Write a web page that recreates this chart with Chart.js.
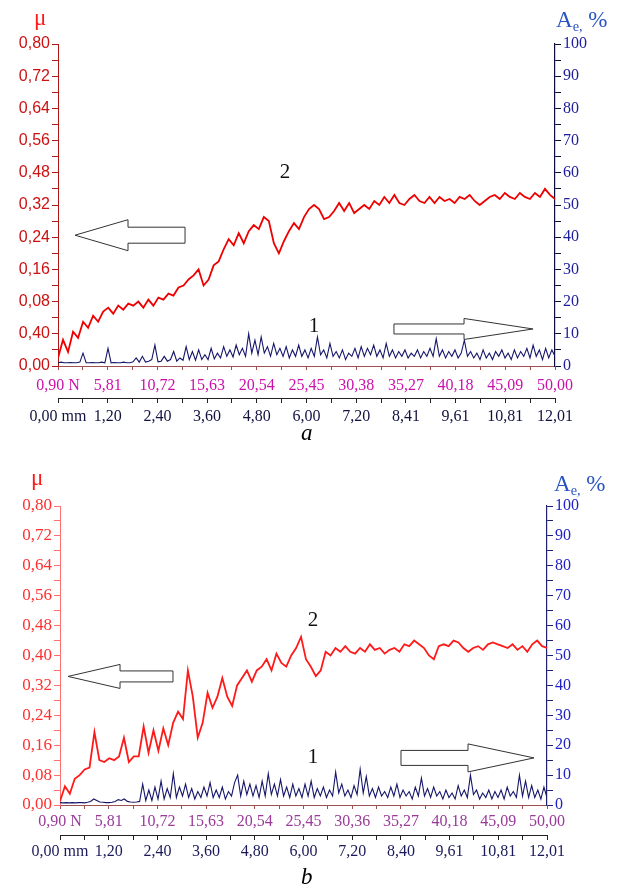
<!DOCTYPE html>
<html>
<head>
<meta charset="utf-8">
<script src="https://cdn.jsdelivr.net/npm/chart.js@4.4.0/dist/chart.umd.min.js"></script>
<style>
    body { margin: 0; background: #fff; width: 619px; height: 888px; position: relative; overflow: hidden; font-family: 'Liberation Serif', serif; }
    canvas { position: absolute; left: 0; }
    .t { position: absolute; white-space: nowrap; line-height: 1; }
    .t sub { font-size: 62%; vertical-align: -4px; }
</style>
</head>
<body>
<canvas id="chartA" width="619" height="430" style="top:0"></canvas>
<canvas id="chartB" width="619" height="440" style="top:448px"></canvas>

<div class="t" style="left:34px;top:6px;color:#ff1a1a;font-size:23px">μ</div>
<div class="t" style="left:556px;top:8px;color:#2a55c0;font-size:23px">A<sub>e,</sub> %</div>
<div class="t" style="left:301px;top:421px;font-size:23px;font-style:italic">a</div>

<div class="t" style="left:31px;top:466px;color:#ff1a1a;font-size:23px">μ</div>
<div class="t" style="left:554px;top:472px;color:#2a55c0;font-size:23px">A<sub>e,</sub> %</div>
<div class="t" style="left:301px;top:865px;font-size:23px;font-style:italic">b</div>

<script>
// friction coefficient (curve 2) and acoustic emission (curve 1), each sampled evenly over 0.90..50.00 N
const muA = [0.02, 0.065, 0.035, 0.085, 0.07, 0.11, 0.095, 0.125, 0.11, 0.135, 0.145, 0.13, 0.15, 0.14, 0.155, 0.15,
    0.16, 0.145, 0.165, 0.15, 0.17, 0.165, 0.18, 0.175, 0.195, 0.2, 0.215, 0.225, 0.24, 0.2, 0.215, 0.25,
    0.26, 0.29, 0.315, 0.3, 0.33, 0.305, 0.335, 0.35, 0.34, 0.37, 0.36, 0.305, 0.28, 0.31, 0.335, 0.355,
    0.34, 0.37, 0.39, 0.4, 0.39, 0.365, 0.37, 0.385, 0.405, 0.385, 0.405, 0.38, 0.39, 0.4, 0.39, 0.41,
    0.4, 0.42, 0.405, 0.425, 0.405, 0.4, 0.415, 0.425, 0.41, 0.405, 0.42, 0.405, 0.42, 0.41, 0.415, 0.405,
    0.42, 0.415, 0.425, 0.41, 0.4, 0.41, 0.42, 0.425, 0.415, 0.43, 0.42, 0.415, 0.43, 0.42, 0.415, 0.43,
    0.42, 0.44, 0.425, 0.415]
const aeA = [1, 1.2, 1, 1, 1.1, 1, 1, 1.2, 4, 1, 1, 1.1, 1, 1, 1.2, 1,
    5.5, 1, 1.1, 1, 1, 1.2, 1, 1, 1.3, 2.5, 1.2, 3, 1.2, 1.5, 2, 6.5,
    1.3, 1.5, 3, 1.5, 2, 4.5, 1.5, 2.5, 1.8, 6, 2, 4.5, 1.8, 5, 2, 3.5,
    2, 5.5, 2.2, 4, 2.5, 6, 3, 5, 2.8, 6.5, 3.5, 5.5, 3, 10, 4, 8,
    3.5, 9, 4, 6, 3, 7, 3.5, 5.5, 3, 6, 2.5, 5, 3, 6.5, 3, 5,
    2.5, 5.5, 3, 9, 3.5, 5, 2.5, 7, 3, 4.5, 2.5, 5, 2, 4, 3, 5.5,
    2.5, 6, 3, 5.5, 3.5, 6.5, 3, 5, 2.5, 7, 3, 5, 2.5, 4.5, 3, 5,
    2.5, 4, 3, 5, 2.5, 4.5, 3, 5.5, 3, 8.5, 3, 5, 2.5, 4.5, 3, 5,
    2.5, 4, 8, 3, 4.5, 2.5, 4, 2, 5, 2.5, 4, 2, 4.5, 3, 5, 2.5,
    4, 2, 5, 2.5, 4.5, 3, 5.5, 2.5, 6.5, 3, 5, 2, 5.5, 2.5, 5, 3]
const muB = [0.01, 0.05, 0.03, 0.07, 0.08, 0.095, 0.1, 0.195, 0.12, 0.115, 0.125, 0.12, 0.13, 0.18, 0.115, 0.13,
    0.13, 0.21, 0.14, 0.2, 0.145, 0.205, 0.16, 0.22, 0.25, 0.23, 0.36, 0.29, 0.18, 0.22, 0.3, 0.26,
    0.29, 0.34, 0.29, 0.265, 0.32, 0.34, 0.36, 0.33, 0.36, 0.37, 0.39, 0.36, 0.405, 0.38, 0.37, 0.4,
    0.42, 0.45, 0.39, 0.37, 0.345, 0.36, 0.41, 0.4, 0.42, 0.41, 0.425, 0.41, 0.405, 0.42, 0.41, 0.43,
    0.415, 0.42, 0.405, 0.415, 0.42, 0.41, 0.43, 0.425, 0.44, 0.43, 0.42, 0.4, 0.39, 0.425, 0.43, 0.425,
    0.44, 0.435, 0.42, 0.41, 0.42, 0.425, 0.415, 0.43, 0.435, 0.43, 0.425, 0.42, 0.43, 0.415, 0.425, 0.41,
    0.43, 0.44, 0.425, 0.42]
const aeB = [0.8, 0.7, 0.8, 0.7, 0.8, 0.7, 0.8, 0.8, 0.7, 0.9, 1.2, 2, 1.5, 1, 0.9, 0.8,
    0.8, 0.9, 1.2, 1.8, 1.5, 2, 1.2, 1, 0.9, 1, 1.2, 7, 1.5, 5, 1.5, 6,
    2, 8, 2, 5.5, 2.5, 10.5, 2.5, 6, 3, 7, 2.5, 5.5, 2, 4.5, 2.5, 6,
    3, 7.5, 2.5, 5, 2.5, 6, 2, 4.5, 3, 7.5, 10, 3, 8, 3.5, 7, 3,
    6.5, 2.5, 8, 3, 10.5, 3.5, 7, 3, 8.5, 3, 6, 2.5, 7, 3, 5.5, 2.5,
    7, 3, 8, 2.5, 5.5, 3, 6, 2.5, 5, 3, 11, 4, 7, 3, 5, 2.5,
    6.5, 3.5, 12, 4, 9.5, 3, 5.5, 2.5, 6, 3, 4.5, 2.5, 6, 3, 7, 2.5,
    5, 3, 4.5, 2, 6, 3, 9, 3, 5.5, 2.5, 6, 3, 4.5, 2, 5, 2.5,
    4, 2, 6.5, 3, 5, 2.5, 10, 3.5, 5, 2, 4, 2.5, 5, 2, 4.5, 2.5,
    5, 2, 6, 3, 4.5, 2.5, 10, 3, 8, 2.5, 6.5, 2.5, 5, 2, 6, 2.5]

// tick labels as printed on the figure (left axis of panel a carries the original misprints)
const muLabelsA = ['0,00', '0,40', '0,08', '0,16', '0,24', '0,32', '0,48', '0,56', '0,64', '0,72', '0,80']
const muLabelsB = ['0,00', '0,08', '0,16', '0,24', '0,32', '0,40', '0,48', '0,56', '0,64', '0,72', '0,80']
const aeLabels = ['0', '10', '20', '30', '40', '50', '60', '70', '80', '90', '100']
const forceLabelsA = ['0,90 N', '5,81', '10,72', '15,63', '20,54', '25,45', '30,38', '35,27', '40,18', '45,09', '50,00']
const forceLabelsB = ['0,90 N', '5,81', '10,72', '15,63', '20,54', '25,45', '30,36', '35,27', '40,18', '45,09', '50,00']
const mmLabelsA = ['0,00 mm', '1,20', '2,40', '3,60', '4,80', '6,00', '7,20', '8,41', '9,61', '10,81', '12,01']
const mmLabelsB = ['0,00 mm', '1,20', '2,40', '3,60', '4,80', '6,00', '7,20', '8,40', '9,61', '10,81', '12,01']

// hollow arrows and curve numbers, in data units (N, μ)
const arrowsA = [
    { x1: 13.45, x2: 2.58, y: 0.325, head: 53, body: 8, half: 15.5 },
    { x1: 34.09, x2: 47.83, y: 0.092, head: 69, body: 5, half: 10.5 },
]
const arrowsB = [
    { x1: 12.29, x2: 1.71, y: 0.344, head: 52, body: 5.5, half: 12 },
    { x1: 35.28, x2: 48.69, y: 0.126, head: 66, body: 7.5, half: 14 },
]
const curveTagsA = [{ text: '2', x: 23.33, y: 0.482 }, { text: '1', x: 26.19, y: 0.097 }]
const curveTagsB = [{ text: '2', x: 26.41, y: 0.494 }, { text: '1', x: 26.41, y: 0.126 }]

const F_MIN = 0.9, F_MAX = 50, MM_MAX = 12.01

const serif = 'Liberation Serif'

function grid21(max, min = 0) {
    let out = []
    for (let k = 0; k <= 20; k++) out.push({ value: min + k * (max - min) / 20 })
    return out
}

function spread(values) {
    const step = (F_MAX - F_MIN) / (values.length - 1)
    return values.map((v, i) => ({ x: F_MIN + i * step, y: v }))
}

const extrasPlugin = {
    id: 'extras',
    afterDraw(chart) {
        const o = chart.options.plugins.extras
        const ctx = chart.ctx
        const xs = chart.scales.x, ys = chart.scales.y
        ctx.save()
        o.arrows.forEach(a => {
            let x1 = xs.getPixelForValue(a.x1), x2 = xs.getPixelForValue(a.x2)
            let y = ys.getPixelForValue(a.y)
            let d = x2 > x1 ? 1 : -1
            let xb = x2 - d * a.head
            ctx.beginPath()
            ctx.moveTo(x1, y - a.body)
            ctx.lineTo(xb, y - a.body)
            ctx.lineTo(xb, y - a.half)
            ctx.lineTo(x2, y)
            ctx.lineTo(xb, y + a.half)
            ctx.lineTo(xb, y + a.body)
            ctx.lineTo(x1, y + a.body)
            ctx.closePath()
            ctx.fillStyle = '#fff'
            ctx.fill()
            ctx.strokeStyle = '#333'
            ctx.lineWidth = 1
            ctx.stroke()
        })
        ctx.fillStyle = '#111'
        ctx.font = `21px "${serif}"`
        ctx.textAlign = 'center'
        ctx.textBaseline = 'middle'
        o.tags.forEach(t => {
            ctx.fillText(t.text, xs.getPixelForValue(t.x), ys.getPixelForValue(t.y))
        })
        ctx.restore()
    },
}

function makePanel(id, p) {
    new Chart(document.getElementById(id), {
        type: 'line',
        data: {
            datasets: [
                { data: spread(p.mu), yAxisID: 'y', borderColor: p.red, borderWidth: 1.8, pointRadius: 0, tension: 0 },
                { data: spread(p.ae), yAxisID: 'y1', borderColor: '#16166a', borderWidth: 1.1, pointRadius: 0, tension: 0 },
            ],
        },
        options: {
            responsive: false,
            animation: false,
            layout: { padding: { top: p.padTop, bottom: p.padBottom, left: 0, right: 0 } },
            plugins: {
                legend: { display: false },
                tooltip: { enabled: false },
                extras: { arrows: p.arrows, tags: p.tags },
            },
            scales: {
                x: {
                    type: 'linear', position: 'bottom', min: F_MIN, max: F_MAX,
                    afterBuildTicks: s => { s.ticks = grid21(F_MAX, F_MIN) },
                    afterFit: s => { s.height = p.forceH },
                    border: { color: '#a05050', width: 1 },
                    grid: { drawOnChartArea: false, tickLength: 4, color: '#a05050' },
                    ticks: {
                        autoSkip: false, maxRotation: 0, padding: p.forcePad, color: p.forceColor,
                        font: { family: serif, size: 16 },
                        callback: (v, i) => i % 2 ? '' : p.forceLabels[i / 2],
                    },
                },
                x2: {
                    type: 'linear', position: 'bottom', min: 0, max: MM_MAX,
                    afterBuildTicks: s => { s.ticks = grid21(MM_MAX) },
                    afterFit: s => { s.height = p.mmH },
                    border: { color: '#222', width: 1 },
                    grid: { drawOnChartArea: false, tickLength: 5, color: '#222' },
                    ticks: {
                        autoSkip: false, maxRotation: 0, padding: p.mmPad, color: p.mmColor,
                        font: { family: serif, size: 16 },
                        callback: (v, i) => i % 2 ? '' : p.mmLabels[i / 2],
                    },
                },
                y: {
                    type: 'linear', position: 'left', min: 0, max: 0.8,
                    afterBuildTicks: s => { s.ticks = grid21(0.8) },
                    afterFit: s => { s.width = p.leftW },
                    border: { color: p.leftLine, width: 1 },
                    grid: { drawOnChartArea: false, tickLength: 6, color: p.leftLine },
                    ticks: {
                        autoSkip: false, padding: 2, color: p.leftColor, font: p.leftFont,
                        callback: (v, i) => i % 2 ? '' : p.muLabels[i / 2],
                    },
                },
                y1: {
                    type: 'linear', position: 'right', min: 0, max: 100,
                    afterBuildTicks: s => { s.ticks = grid21(100) },
                    afterFit: s => { s.width = p.rightW },
                    border: { color: p.rightLine, width: 1.2 },
                    grid: { drawOnChartArea: false, tickLength: 6, color: p.rightLine },
                    ticks: {
                        autoSkip: false, padding: 2, color: p.rightColor, font: { family: serif, size: 16 },
                        callback: (v, i) => i % 2 ? '' : aeLabels[i / 2],
                    },
                },
            },
        },
        plugins: [extrasPlugin],
    })
}

makePanel('chartA', {
    mu: muA, ae: aeA, arrows: arrowsA, tags: curveTagsA,
    red: '#ee0000',
    padTop: 44, padBottom: 4, forceH: 32, mmH: 28, forcePad: 6, mmPad: 4, leftW: 58, rightW: 64,
    forceLabels: forceLabelsA, mmLabels: mmLabelsA, muLabels: muLabelsA,
    forceColor: '#cc10aa', mmColor: '#121240',
    leftLine: '#b01818', leftColor: '#cc1111', leftFont: { family: 'Liberation Sans', size: 16 },
    rightLine: '#0c0c3c', rightColor: '#1c1c9c',
})

makePanel('chartB', {
    mu: muB, ae: aeB, arrows: arrowsB, tags: curveTagsB,
    red: '#ff1a1a',
    padTop: 58, padBottom: 24, forceH: 30, mmH: 29, forcePad: 3, mmPad: 2, leftW: 60, rightW: 72,
    forceLabels: forceLabelsB, mmLabels: mmLabelsB, muLabels: muLabelsB,
    forceColor: '#9a3a9a', mmColor: '#1a1a5a',
    leftLine: '#ff7070', leftColor: '#ff3030', leftFont: { family: serif, size: 17 },
    rightLine: '#202070', rightColor: '#2020c8',
})
</script>
</body>
</html>
